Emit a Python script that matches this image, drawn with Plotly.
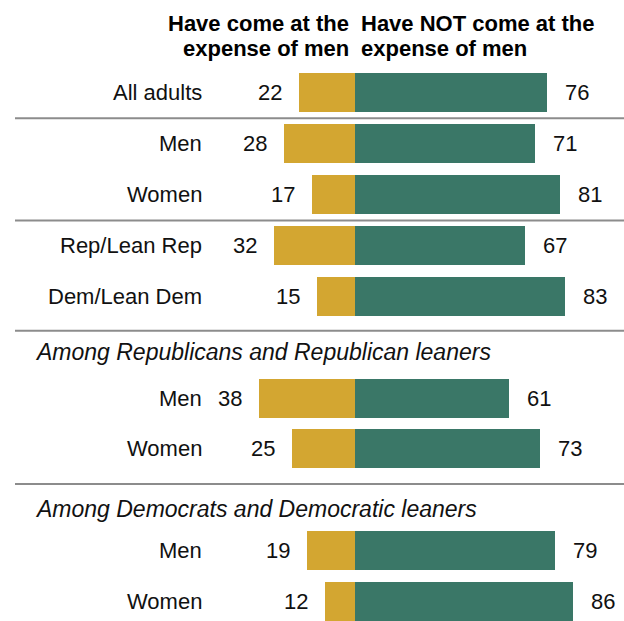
import plotly.graph_objects as go

# ---- data ----
groups = [
    {"header": None, "labels": ["All adults"], "came": [22], "not_came": [76]},
    {"header": None, "labels": ["Men", "Women"], "came": [28, 17], "not_came": [71, 81]},
    {"header": None, "labels": ["Rep/Lean Rep", "Dem/Lean Dem"], "came": [32, 15], "not_came": [67, 83]},
    {"header": "Among Republicans and Republican leaners", "labels": ["Men", "Women"], "came": [38, 25], "not_came": [61, 73]},
    {"header": "Among Democrats and Democratic leaners", "labels": ["Men", "Women"], "came": [19, 12], "not_came": [79, 86]},
]
series_names = ["Have come at the<br>expense of men", "Have NOT come at the<br>expense of men"]

GOLD = "#D3A631"
GREEN = "#3A7767"
GRAY = "#8C8C8C"
FONT = "Liberation Sans"

W, H = 624, 621
CENTER_PX = 355.0
PX_PER_UNIT = 2.53
ROW0_PX = 92.8
ROW_PX = 50.87

x_min = -CENTER_PX / PX_PER_UNIT
x_max = (W - CENTER_PX) / PX_PER_UNIT
y_top = -ROW0_PX / ROW_PX
y_bot = (H - ROW0_PX) / ROW_PX


def px_x(p):
    return (p - CENTER_PX) / PX_PER_UNIT


def px_y(p):
    return (p - ROW0_PX) / ROW_PX


# Build row positions
ys, labels, came, not_came = [], [], [], []
headers = []
slot = 0
for g in groups:
    if g["header"]:
        headers.append((g["header"], slot))
        slot += 1
    for lab, c, n in zip(g["labels"], g["came"], g["not_came"]):
        ys.append(slot)
        labels.append(lab)
        came.append(c)
        not_came.append(n)
        slot += 1

fig = go.Figure()
fig.add_trace(go.Bar(y=ys, x=[-v for v in came], orientation="h", width=0.767,
                     marker=dict(color=GOLD, line=dict(width=0)), name="came",
                     hoverinfo="skip"))
fig.add_trace(go.Bar(y=ys, x=not_came, orientation="h", width=0.767,
                     marker=dict(color=GREEN, line=dict(width=0)), name="not",
                     hoverinfo="skip"))

ann = []
for y, lab, c, n in zip(ys, labels, came, not_came):
    ann.append(dict(x=px_x(204), y=y, text=lab, xanchor="right", yanchor="middle",
                    showarrow=False, font=dict(family=FONT, size=22, color="#111")))
    ann.append(dict(x=-c, y=y, text=str(c), xanchor="right", yanchor="middle",
                    xshift=-15, showarrow=False, font=dict(family=FONT, size=22, color="#111")))
    ann.append(dict(x=n, y=y, text=str(n), xanchor="left", yanchor="middle",
                    xshift=16, showarrow=False, font=dict(family=FONT, size=22, color="#111")))

header_offsets = [0.09, 0.18]
for (text, s), off in zip(headers, header_offsets):
    ann.append(dict(x=px_x(33), y=s + off, text="<i>" + text + "</i>", xanchor="left",
                    yanchor="middle", showarrow=False,
                    font=dict(family=FONT, size=23, color="#111")))

# column headers (two lines each)
for i, name in enumerate(series_names):
    lines = name.split("<br>")
    for j, line in enumerate(lines):
        ann.append(dict(x=px_x(351 if i == 0 else 359), y=px_y(23 + 25 * j),
                        text="<b>" + line + "</b>",
                        xanchor="right" if i == 0 else "left", yanchor="middle",
                        showarrow=False, font=dict(family=FONT, size=22, color="#000")))

shapes = []
for lp in [118.3, 220.5, 330.7, 484.0]:
    shapes.append(dict(type="line", xref="paper", x0=15 / W, x1=1, y0=px_y(lp), y1=px_y(lp),
                       line=dict(color=GRAY, width=2)))

fig.update_layout(
    width=W, height=H, margin=dict(l=0, r=0, t=0, b=0),
    paper_bgcolor="white", plot_bgcolor="white",
    barmode="relative", showlegend=False, bargap=0,
    xaxis=dict(range=[x_min, x_max], visible=False, fixedrange=True),
    yaxis=dict(range=[y_bot, y_top], visible=False, fixedrange=True),
    annotations=ann, shapes=shapes,
)
fig.write_html("out.html", config={"displayModeBar": False},
               post_script="document.body.style.margin='0';document.body.style.overflow='hidden';")
